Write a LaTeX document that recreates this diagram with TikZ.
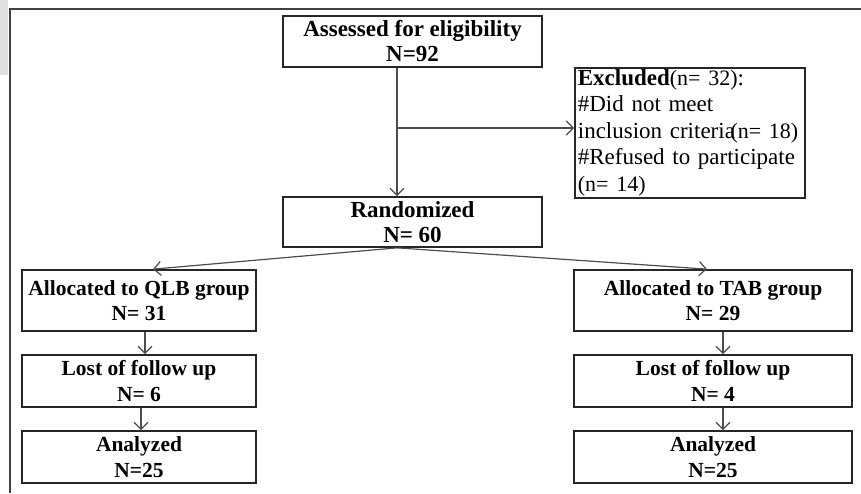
\documentclass[tikz,border=0pt]{standalone}
\usepackage{fontspec}
\setmainfont{Liberation Serif}
\usetikzlibrary{arrows.meta}
\newcommand{\cnt}[1]{{\fontsize{22}{26}\selectfont(n=~#1)}}

\begin{document}
\begin{tikzpicture}[x=1pt,y=-1pt,>={Straight Barb[length=7pt,width=14pt]},
    box/.style={draw=black!85,line width=1.7pt,align=center,inner sep=0pt,
      font=\fontsize{21.5}{25.5}\selectfont\bfseries},
    link/.style={->,draw=black!70,line width=1.2pt}]
  \useasboundingbox (0,0) rectangle (861,493);
  \fill[black!12] (0,0) rectangle (8,75);
  \draw[black!75,line width=2pt] (9.5,493) -- (9.5,8.5) -- (861,8.5);
  % top of the chart
  \node[box,minimum width=259pt,minimum height=51pt,font=\fontsize{23}{25}\selectfont\bfseries] (assess) at (412.5,41.5) {Assessed for eligibility\\N=92};
  \node[box,minimum width=259pt,minimum height=50pt,font=\fontsize{23}{25}\selectfont\bfseries] (rand) at (412.5,222) {Randomized\\N= 60};
  \node[box,anchor=north west,align=left,text width=224pt,minimum height=130pt,inner xsep=3pt,
    font=\fontsize{23}{26.5}\selectfont] (excl) at (574,67)
    {\textbf{Excluded}\cnt{32}:\\\#Did not meet\\inclusion criteri\makebox[0.25em][l]{a}\cnt{18}\\\#Refused to participate\\\cnt{14}};
  % two arms
  \node[box,minimum width=234pt,minimum height=61pt] (qlb) at (139,300.5) {Allocated to QLB group\\N= 31};
  \node[box,minimum width=278pt,minimum height=61pt] (tab) at (713,300.5) {Allocated to TAB group\\N= 29};
  \node[box,minimum width=234pt,minimum height=52pt] (lostq) at (139,381) {Lost of follow up\\N= 6};
  \node[box,minimum width=278pt,minimum height=52pt] (lostt) at (713,381) {Lost of follow up\\N= 4};
  \node[box,minimum width=234pt,minimum height=52pt] (anq) at (139,457) {Analyzed\\N=25};
  \node[box,minimum width=278pt,minimum height=52pt] (ant) at (713,457) {Analyzed\\N=25};
  % connectors
  \coordinate (split) at (397,128);
  \draw[link] ([xshift=-15.5pt]assess.south) -- ([xshift=-15.5pt]rand.north);
  \draw[link] (split) -- (split -| excl.west);
  \draw[link] ([xshift=-15.5pt]rand.south) -- ([xshift=14pt]qlb.north);
  \draw[link] ([xshift=-15.5pt]rand.south) -- ([xshift=-6pt]tab.north);
  \draw[link] ([xshift=6pt]qlb.south) -- ([xshift=6pt]lostq.north);
  \draw[link] ([xshift=2pt]lostq.south) -- ([xshift=2pt]anq.north);
  \draw[link] ([xshift=10pt]tab.south) -- ([xshift=10pt]lostt.north);
  \draw[link] ([xshift=10pt]lostt.south) -- ([xshift=10pt]ant.north);
\end{tikzpicture}
\end{document}
